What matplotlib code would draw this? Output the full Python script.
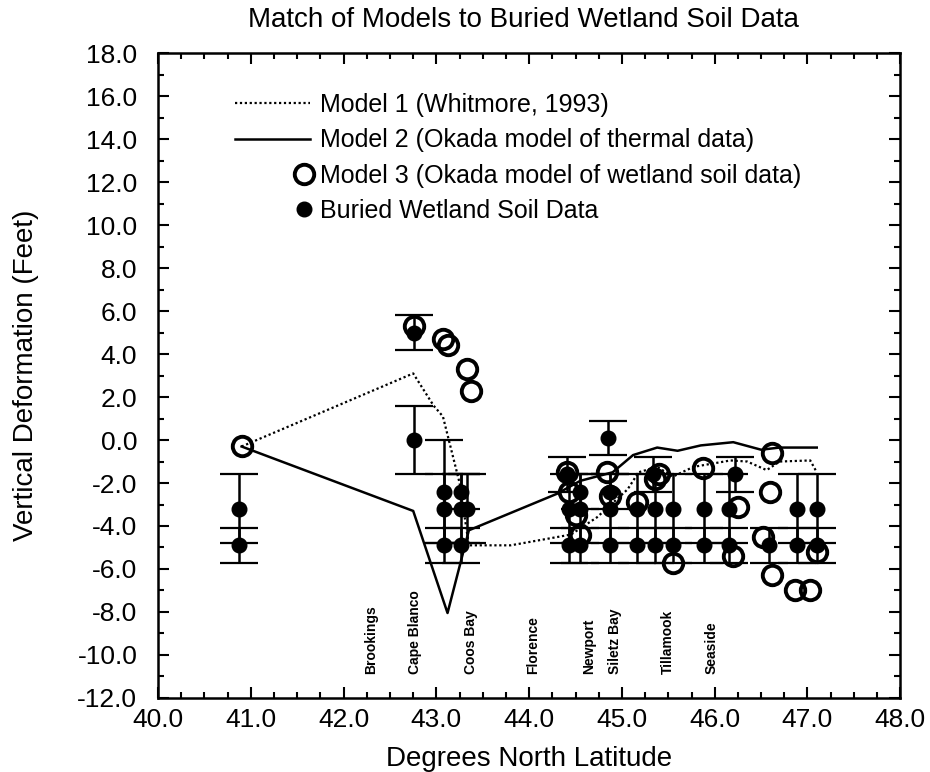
# -*- coding: utf-8 -*-
# Match of models to buried wetland soil data (Oregon coast)
import matplotlib
matplotlib.use('Agg')
import matplotlib.pyplot as plt
from matplotlib.ticker import MultipleLocator, FormatStrFormatter
from matplotlib.legend_handler import HandlerLine2D

plt.rcParams['font.family'] = ['Liberation Sans', 'DejaVu Sans']
plt.rcParams['axes.unicode_minus'] = False

# Model 1 (Whitmore, 1993) - dotted line
m1_lat = [40.9, 42.75, 42.97, 43.07, 43.25, 43.35, 43.8, 44.45, 44.73, 45.06,
          45.18, 45.38, 45.55, 45.77, 46.17, 46.35, 46.56, 46.7, 47.03, 47.1]
m1_def = [-0.3, 3.1, 1.6, 1.1, -2.0, -4.9, -4.9, -4.4, -3.6, -2.3,
          -1.5, -1.25, -1.7, -1.25, -0.95, -1.0, -1.4, -1.0, -0.95, -1.5]

# Model 2 (Okada model of thermal data) - solid line
m2_lat = [40.9, 42.75, 43.12, 43.35, 44.3, 44.55, 44.9, 45.12, 45.38, 45.6,
          45.85, 46.2, 46.5, 46.7, 47.1]
m2_def = [-0.3, -3.3, -8.05, -4.2, -2.5, -1.9, -1.5, -0.7, -0.35, -0.5,
          -0.25, -0.1, -0.45, -0.35, -0.35]

# Model 3 (Okada model of wetland soil data) - open circles
m3_lat = [40.9, 42.76, 43.07, 43.13, 43.33, 43.37, 44.41, 44.43, 44.5, 44.55,
          44.84, 44.87, 45.16, 45.36, 45.4, 45.55, 45.87, 46.2, 46.25, 46.52,
          46.6, 46.62, 46.62, 46.87, 47.03, 47.1]
m3_def = [-0.3, 5.3, 4.7, 4.4, 3.3, 2.3, -1.5, -2.4, -3.5, -4.4,
          -1.5, -2.6, -2.9, -1.8, -1.6, -5.7, -1.3, -5.4, -3.1, -4.5,
          -2.4, -0.6, -6.3, -7.0, -7.0, -5.2]

# buried wetland soil data with uncertainty
soil_lat = [40.87, 40.87, 42.76, 42.76, 43.08, 43.08, 43.08, 43.27, 43.27, 43.27,
            43.33, 44.41, 44.43, 44.43, 44.55, 44.55, 44.55, 44.85, 44.87, 44.87,
            44.87, 45.16, 45.16, 45.34, 45.36, 45.36, 45.55, 45.55, 45.88, 45.88,
            46.15, 46.15, 46.22, 46.58, 46.89, 46.89, 47.1, 47.1]
soil_def = [-3.2, -4.9, 5.0, 0.0, -2.4, -3.2, -4.9, -2.4, -3.2, -4.9,
            -3.2, -1.6, -3.2, -4.9, -2.4, -3.2, -4.9, 0.1, -2.4, -3.2,
            -4.9, -3.2, -4.9, -1.6, -3.2, -4.9, -3.2, -4.9, -3.2, -4.9,
            -3.2, -4.9, -1.6, -4.9, -3.2, -4.9, -3.2, -4.9]
soil_err = [1.6, 0.8, 0.8, 1.6, 2.4, 1.6, 0.8, 0.8, 1.6, 0.8,
            1.6, 0.8, 1.6, 0.8, 0.8, 1.6, 0.8, 0.8, 0.8, 1.6,
            0.8, 1.6, 0.8, 0.8, 1.6, 0.8, 1.6, 0.8, 1.6, 0.8,
            1.6, 0.8, 0.8, 0.8, 1.6, 0.8, 1.6, 0.8]

# towns along the coast
towns = ['Brookings', 'Cape Blanco', 'Coos Bay', 'Florence', 'Newport',
         'Siletz Bay', 'Tillamook', 'Seaside']
town_lat = [42.3, 42.77, 43.37, 44.04, 44.65, 44.93, 45.5, 45.97]


class MarkerAtEnd(HandlerLine2D):
    # put the single legend marker near the right end of the handle
    def get_xdata(self, legend, xdescent, ydescent, width, height, fontsize):
        xm = -xdescent + width - 0.25 * fontsize
        return [xm, xm], [xm]


fig = plt.figure(figsize=(9.3, 7.72), dpi=100)
ax = fig.add_axes([0.170, 0.096, 0.798, 0.835])

l1, = ax.plot(m1_lat, m1_def, color='black', lw=1.6, ls=(0, (1, 1.2)),
              label='Model 1 (Whitmore, 1993)')
l2, = ax.plot(m2_lat, m2_def, color='black', lw=1.8,
              label='Model 2 (Okada model of thermal data)')
eb = ax.errorbar(soil_lat, soil_def, yerr=soil_err, fmt='o', color='black',
                 ms=10.5, elinewidth=1.8, capsize=13.5, capthick=1.6,
                 label='Buried Wetland Soil Data')
l3, = ax.plot(m3_lat, m3_def, 'o', mfc='none', mec='black', ms=14, mew=2.8,
              label='Model 3 (Okada model of wetland soil data)')

for name, lat in zip(towns, town_lat):
    ax.text(lat, -10.9, name, rotation=90, ha='center', va='bottom',
            fontsize=10, fontweight='bold')

ax.set_xlim(40, 48)
ax.set_ylim(-12, 18)
ax.xaxis.set_major_locator(MultipleLocator(1))
ax.xaxis.set_minor_locator(MultipleLocator(0.25))
ax.yaxis.set_major_locator(MultipleLocator(2))
ax.yaxis.set_minor_locator(MultipleLocator(1))
ax.xaxis.set_major_formatter(FormatStrFormatter('%.1f'))
ax.yaxis.set_major_formatter(FormatStrFormatter('%.1f'))
ax.tick_params(which='both', direction='in', top=True, right=True, width=1.5)
ax.tick_params(which='major', length=8, labelsize=19)
ax.tick_params(which='minor', length=4)
ax.tick_params(axis='x', which='major', pad=7)
ax.tick_params(axis='y', which='major', pad=15)
for s in ax.spines.values():
    s.set_linewidth(1.8)

ax.set_xlabel('Degrees North Latitude', fontsize=20)
ax.set_ylabel('Vertical Deformation (Feet)', fontsize=20)
ax.xaxis.set_label_coords(0.5, -0.074)
ax.yaxis.set_label_coords(-0.16, 0.5)
fig.text(0.563, 0.974, 'Match of Models to Buried Wetland Soil Data',
         fontsize=20, ha='center', va='center')

leg = ax.legend([l1, l2, l3, eb[0]],
                [l1.get_label(), l2.get_label(), l3.get_label(), 'Buried Wetland Soil Data'],
                loc='upper left', bbox_to_anchor=(0.104, 0.938), frameon=False,
                fontsize=18, handlelength=3.0, handletextpad=0.4,
                borderpad=0, borderaxespad=0, labelspacing=0.45,
                handler_map={l3: MarkerAtEnd(), eb[0]: MarkerAtEnd()})

fig.savefig('out.png', dpi=100)
